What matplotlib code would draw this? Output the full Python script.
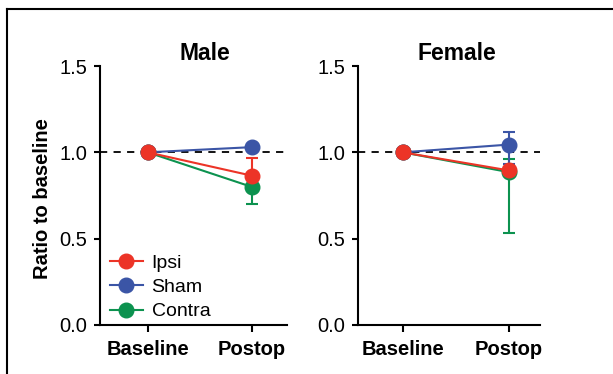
import matplotlib
matplotlib.use("Agg")
import matplotlib.pyplot as plt
from matplotlib.lines import Line2D

plt.rcParams['font.family'] = ['Liberation Sans', 'DejaVu Sans']

timepoints = ['Baseline', 'Postop']
groups = ['Ipsi', 'Sham', 'Contra']
colors = {'Ipsi': '#EC3427', 'Sham': '#3B55A6', 'Contra': '#0C924F'}

# mean ratio, lower error, upper error per panel
male_mean = {'Ipsi': [1.0, 0.865], 'Sham': [1.0, 1.03], 'Contra': [1.0, 0.80]}
male_lo = {'Ipsi': [0, 0], 'Sham': [0, 0], 'Contra': [0, 0.10]}
male_hi = {'Ipsi': [0, 0.10], 'Sham': [0, 0], 'Contra': [0, 0]}

female_mean = {'Ipsi': [1.0, 0.895], 'Sham': [1.0, 1.045], 'Contra': [1.0, 0.885]}
female_lo = {'Ipsi': [0, 0], 'Sham': [0, 0.115], 'Contra': [0, 0.35]}
female_hi = {'Ipsi': [0, 0], 'Sham': [0, 0.07], 'Contra': [0, 0.075]}

yticks = [0.0, 0.5, 1.0, 1.5]

W, H = 613, 374
fig = plt.figure(figsize=(W / 100, H / 100), dpi=100)

ax1 = fig.add_axes([100 / W, (H - 325) / H, 187 / W, 259 / H])
ax2 = fig.add_axes([358 / W, (H - 325) / H, 182 / W, 259 / H])

draw_order = ['Contra', 'Sham', 'Ipsi']
x = [0, 1]


def panel(ax, mean, lo, hi, title, tx, xlim):
    ax.axhline(1.0, color='black', lw=1.3, ls=(0, (4, 3.5)), zorder=1)
    for i, g in enumerate(draw_order):
        ax.errorbar(x, mean[g], yerr=[lo[g], hi[g]], color=colors[g], lw=1.5,
                    marker='o', ms=10.5, capsize=4.5, capthick=1.5, elinewidth=1.5,
                    zorder=3 + i, label=g)
    ax.set_xlim(*xlim)
    ax.set_ylim(0, 1.5)
    ax.set_yticks(yticks)
    ax.set_yticklabels([f'{v:.1f}' for v in yticks], fontsize=14.5)
    ax.set_xticks(x)
    ax.set_xticklabels(timepoints, fontsize=14.5, fontweight='bold')
    for s in ['top', 'right']:
        ax.spines[s].set_visible(False)
    for s in ['left', 'bottom']:
        ax.spines[s].set_linewidth(1.5)
    ax.tick_params(axis='y', length=4, width=1.5, pad=5)
    ax.tick_params(axis='x', length=5, width=1.5, pad=6)
    ax.text(tx, 1.05, title, transform=ax.transAxes, ha='center', va='center',
            fontsize=16.5, fontweight='bold')


panel(ax1, male_mean, male_lo, male_hi, 'Male', 0.56, (-0.46, 1.34))
panel(ax2, female_mean, female_lo, female_hi, 'Female', 0.545, (-0.42, 1.29))

ax1.set_ylabel('Ratio to baseline', fontsize=14.5, fontweight='bold')
ax1.yaxis.set_label_coords(-0.255, 0.49)

handles = [Line2D([], [], color=colors[g], lw=1.5, marker='o', ms=10.5) for g in groups]
ax1.legend(handles, groups, loc='lower left', bbox_to_anchor=(0.0, -0.02),
           frameon=False, fontsize=14, handlelength=1.7, handletextpad=0.45,
           labelspacing=0.35, borderaxespad=0.1)

# outer frame
fig.add_artist(Line2D([7 / W, 7 / W], [0, (H - 9) / H], color='black', lw=1.5,
                      transform=fig.transFigure))
fig.add_artist(Line2D([7 / W, 1], [(H - 9) / H, (H - 9) / H], color='black', lw=1.5,
                      transform=fig.transFigure))

fig.savefig('out.png', dpi=100)
